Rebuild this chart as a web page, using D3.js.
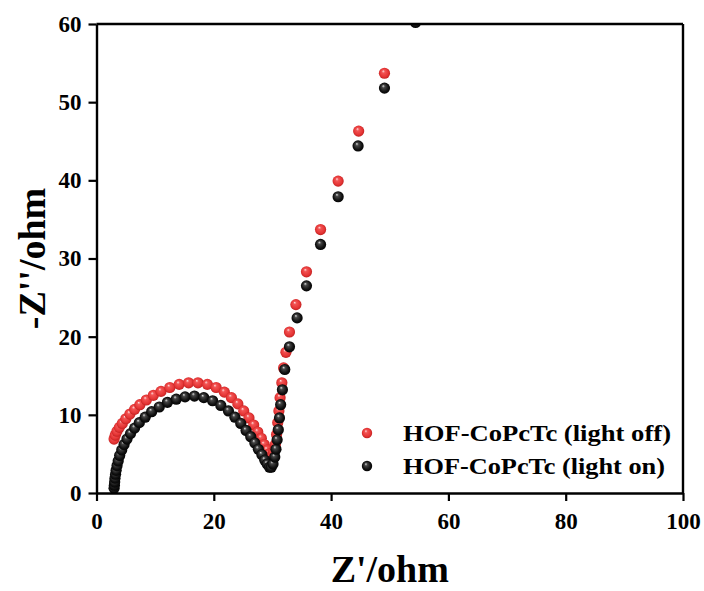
<!DOCTYPE html>
<html><head><meta charset="utf-8">
<script src="https://cdn.jsdelivr.net/npm/d3@7"></script>
<style>html,body{margin:0;padding:0;background:#fff;}svg{display:block;}</style>
</head><body>
<svg id="chart" width="704" height="591"></svg>
<script>
const seriesNames = ["HOF-CoPcTc (light off)", "HOF-CoPcTc (light on)"];
const xTicks = [0, 20, 40, 60, 80, 100];
const yTicks = [0, 10, 20, 30, 40, 50, 60];
const lightOff = [[3.0,6.9],[3.2,7.4],[3.5,7.9],[3.9,8.4],[4.4,8.9],[5.0,9.5],[5.7,10.1],[6.5,10.7],[7.4,11.3],[8.5,11.9],[9.7,12.5],[11.0,13.0],[12.5,13.5],[14.1,13.9],[15.7,14.1],[17.3,14.1],[18.9,13.9],[20.4,13.5],[21.8,12.9],[23.0,12.2],[24.1,11.4],[25.1,10.5],[26.0,9.6],[26.8,8.7],[27.5,7.8],[28.1,7.0],[28.6,6.2],[29.1,5.5],[29.5,5.0],[29.9,4.8],[30.2,5.2],[30.5,6.2],[30.7,7.5],[30.9,9.0],[31.1,10.5],[31.3,12.2],[31.6,14.1],[31.9,16.0],[32.3,18.0],[32.9,20.6],[34.0,24.1],[35.8,28.3],[38.2,33.7],[41.2,39.9],[44.7,46.3],[49.1,53.7],[54.3,61.5]];
const lightOn = [[3.0,0.6],[3.05,1.0],[3.1,1.4],[3.15,1.9],[3.25,2.4],[3.35,2.9],[3.5,3.5],[3.7,4.1],[3.95,4.8],[4.3,5.5],[4.7,6.2],[5.2,6.9],[5.8,7.6],[6.5,8.3],[7.3,9.0],[8.3,9.7],[9.4,10.4],[10.7,11.0],[12.1,11.6],[13.6,12.0],[15.1,12.3],[16.7,12.4],[18.3,12.2],[19.8,11.8],[21.2,11.2],[22.5,10.5],[23.6,9.7],[24.6,8.9],[25.5,8.0],[26.3,7.2],[27.0,6.4],[27.6,5.6],[28.2,4.9],[28.7,4.2],[29.1,3.7],[29.5,3.3],[29.8,3.3],[30.1,3.7],[30.4,4.6],[30.6,5.6],[30.8,6.8],[31.0,8.1],[31.2,9.6],[31.4,11.3],[31.7,13.2],[32.1,15.8],[32.9,18.7],[34.2,22.4],[35.8,26.5],[38.2,31.8],[41.2,37.9],[44.6,44.4],[49.1,51.8],[54.4,60.2]];
const seriesData = [lightOff, lightOn];

const svg = d3.select("#chart");
const m = {left: 96.5, right: 683, top: 24, bottom: 493};
const x = d3.scaleLinear().domain([0, 100]).range([m.left, m.right]);
const y = d3.scaleLinear().domain([0, 60]).range([m.bottom, m.top]);
const font = "'Liberation Serif','Times New Roman',serif";

const defs = svg.append("defs");
const grads = [
  {id: "gRed", stops: [["0%", "#ffe0e0"], ["25%", "#f25454"], ["70%", "#e53535"], ["100%", "#b81c1c"]]},
  {id: "gBlk", stops: [["0%", "#e0e0e0"], ["25%", "#454545"], ["70%", "#111"], ["100%", "#000"]]}
];
grads.forEach(g => {
  const rg = defs.append("radialGradient").attr("id", g.id)
    .attr("cx", "50%").attr("cy", "50%").attr("r", "55%").attr("fx", "38%").attr("fy", "30%");
  g.stops.forEach(s => rg.append("stop").attr("offset", s[0]).attr("stop-color", s[1]));
});
defs.append("clipPath").attr("id", "clip").append("rect")
  .attr("x", m.left).attr("y", m.top).attr("width", m.right - m.left).attr("height", m.bottom - m.top);

const fills = ["url(#gRed)", "url(#gBlk)"];
const r = 5.6;

const plot = svg.append("g").attr("clip-path", "url(#clip)");
seriesData.forEach((data, i) => {
  plot.append("g").selectAll("circle").data(data).join("circle")
    .attr("cx", d => x(d[0])).attr("cy", d => y(d[1])).attr("r", r)
    .attr("fill", fills[i]);
});

// axes
const xAxis = svg.append("g").attr("transform", `translate(0,${m.bottom})`)
  .call(d3.axisBottom(x).tickValues(xTicks).tickSize(8).tickSizeOuter(0).tickPadding(12));
const yAxis = svg.append("g").attr("transform", `translate(${m.left},0)`)
  .call(d3.axisLeft(y).tickValues(yTicks).tickSize(8).tickSizeOuter(0).tickPadding(7));
[xAxis, yAxis].forEach(a => {
  a.select(".domain").attr("stroke", "#000").attr("stroke-width", 2.4);
  a.selectAll(".tick line").attr("stroke", "#000").attr("stroke-width", 2.2);
  a.selectAll("text").attr("font-family", font).attr("font-weight", "bold")
    .attr("font-size", 23).attr("fill", "#000");
});
// top and right frame
svg.append("line").attr("x1", m.left).attr("x2", m.right).attr("y1", m.top).attr("y2", m.top)
  .attr("stroke", "#000").attr("stroke-width", 2.4);
svg.append("line").attr("x1", m.right).attr("x2", m.right).attr("y1", m.top).attr("y2", m.bottom)
  .attr("stroke", "#000").attr("stroke-width", 2.4);

// titles
svg.append("text").attr("x", (m.left + m.right) / 2).attr("y", 582)
  .attr("text-anchor", "middle").attr("font-family", font).attr("font-weight", "bold")
  .attr("font-size", 38).text("Z'/ohm");
svg.append("text").attr("transform", `translate(45,${(m.top + m.bottom) / 2}) rotate(-90)`)
  .attr("text-anchor", "middle").attr("font-family", font).attr("font-weight", "bold")
  .attr("font-size", 38).text("-Z''/ohm");

// legend
const lg = svg.append("g");
seriesNames.forEach((name, i) => {
  const yy = 433 + i * 33;
  lg.append("circle").attr("cx", 367).attr("cy", yy).attr("r", 5.2).attr("fill", fills[i]);
  lg.append("text").attr("x", 403).attr("y", yy + 8).attr("font-family", font)
    .attr("font-weight", "bold").attr("font-size", 24)
    .attr("textLength", i === 0 ? 268 : 262).attr("lengthAdjust", "spacingAndGlyphs").text(name);
});
</script>
</body></html>
